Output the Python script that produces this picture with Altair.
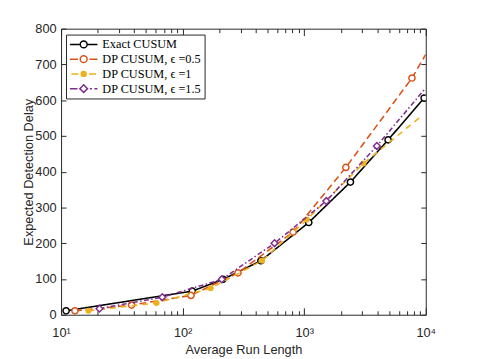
import altair as alt
import pandas as pd

# ---------------- data ----------------
series_names = ["Exact CUSUM", "DP CUSUM, ϵ =0.5", "DP CUSUM, ϵ =1", "DP CUSUM, ϵ =1.5"]

exact_arl = [11, 120, 215, 440, 1090, 2400, 4900, 9700]
exact_edd = [11, 66, 99, 151, 258, 371, 489, 606]

dp05_arl = [13, 38, 117, 285, 810, 2200, 7700, 10000]
dp05_edd = [11, 27, 54, 117, 231, 412, 662, 728]

dp1_arl = [16.8, 61, 170, 450, 1050, 3070, 8800]
dp1_edd = [11, 33, 74, 151, 266, 423, 550]

dp15_arl = [20.7, 68, 210, 570, 1520, 3960, 9700]
dp15_edd = [17, 49, 99, 200, 318, 472, 629]

# number of leading points of each series that carry a marker
marked_points = [8, 7, 6, 6]

x_tick_values = [10 * k for k in range(1, 10)] + [100 * k for k in range(1, 10)] + \
                [1000 * k for k in range(1, 10)] + [10000]
y_tick_values = [0, 100, 200, 300, 400, 500, 600, 700, 800]

# ---------------- styles ----------------
colors = ["#000000", "#D95319", "#EDB120", "#7E2F8E"]
dashes = [[1, 0], [7, 4], [6, 5], [5, 2.5, 1.5, 2.5]]
shapes = ["circle", "circle", "circle", "diamond"]
fills = ["white", "white", "#EDB120", "white"]
sizes = [40, 40, 22, 48]

circ = "M-0.25,0A0.25,0.25,0,1,1,0.25,0A0.25,0.25,0,1,1,-0.25,0Z"
legend_paths = [
    "M-1,0L-0.25,0M0.25,0L1,0" + circ,
    "M-1,0L-0.42,0M0.42,0L1,0" + circ,
    "M-0.9,0L-0.38,0M0.38,0L0.9,0"
    "M-0.18,0A0.18,0.18,0,1,1,0.18,0A0.18,0.18,0,1,1,-0.18,0Z"
    "M-0.1,0A0.1,0.1,0,1,1,0.1,0A0.1,0.1,0,1,1,-0.1,0Z"
    "M-0.04,0A0.04,0.04,0,1,1,0.04,0A0.04,0.04,0,1,1,-0.04,0Z",
    "M-1,0L-0.45,0M0.45,0L0.6,0M0.78,0L1,0M0,-0.28L0.28,0L0,0.28L-0.28,0Z",
]

rows = []
for name, arl, edd, nm in zip(series_names, [exact_arl, dp05_arl, dp1_arl, dp15_arl],
                              [exact_edd, dp05_edd, dp1_edd, dp15_edd], marked_points):
    for j, (a, e) in enumerate(zip(arl, edd)):
        rows.append({"series": name, "arl": a, "edd": e, "marker": j < nm})
df = pd.DataFrame(rows)

xscale = alt.Scale(type="log", domain=[10, 10000])
yscale = alt.Scale(domain=[0, 800])

major = "indexof([10,100,1000,10000], datum.value) >= 0"
label_expr = ("datum.value == 10 ? '10¹' : datum.value == 100 ? '10²' : "
              "datum.value == 1000 ? '10³' : datum.value == 10000 ? '10⁴' : ''")
tick_dash = {"condition": {"test": major, "value": []}, "value": [0, 3, 4, 20]}

x_bottom = alt.Axis(orient="bottom", values=x_tick_values, labelExpr=label_expr,
                    title="Average Run Length", domain=False, grid=False, offset=-7,
                    tickSize=7, tickDash=tick_dash, labelOverlap=False, labelFlush=False,
                    labelPadding=12, titlePadding=4)
y_left = alt.Axis(orient="left", values=y_tick_values, title="Expected Detection Delay",
                  domain=False, grid=False, offset=-5, tickSize=5, labelPadding=5,
                  titlePadding=-1, labelFlush=False)
x_top = alt.Axis(orient="top", values=x_tick_values, labels=False, title=None,
                 domain=False, grid=False, offset=-7, tickSize=7, tickDash=tick_dash)
y_right = alt.Axis(orient="right", values=y_tick_values, labels=False, title=None,
                   domain=False, grid=False, offset=-5, tickSize=5)

layers = []
for i, name in enumerate(series_names):
    ax_x = x_bottom if i == 0 else None
    ax_y = y_left if i == 0 else None
    line = alt.Chart(df).transform_filter(alt.datum.series == name).mark_line(
        color=colors[i], strokeDash=dashes[i], strokeWidth=1.6, clip=True
    ).encode(
        x=alt.X("arl:Q", scale=xscale, axis=ax_x),
        y=alt.Y("edd:Q", scale=yscale, axis=ax_y),
        order="arl:Q",
    )
    ax_x2 = x_top if i == 0 else None
    ax_y2 = y_right if i == 0 else None
    pts = alt.Chart(df).transform_filter(
        (alt.datum.series == name) & (alt.datum.marker == True)
    ).mark_point(
        shape=shapes[i], size=sizes[i], filled=True, fill=fills[i], stroke=colors[i],
        strokeWidth=1.5, opacity=1, clip=True
    ).encode(
        x=alt.X("arl:Q", scale=xscale, axis=ax_x2),
        y=alt.Y("edd:Q", scale=yscale, axis=ax_y2),
    )
    layers += [line, pts]

leg = alt.Legend(title=None, orient="none", legendX=5, legendY=6, padding=3,
                 strokeColor="#262626", fillColor="white", labelFont="Liberation Serif",
                 labelFontSize=12.5, labelColor="black", symbolStrokeWidth=1.5,
                 symbolSize=784, labelOffset=4, rowPadding=1, clipHeight=14,
                 symbolOpacity=1, labelLimit=300)
legend_layer = alt.Chart(df).transform_filter("datum.arl < 0").mark_point(
    filled=False, strokeWidth=1.5, size=784, opacity=1
).encode(
    color=alt.Color("series:N", scale=alt.Scale(domain=series_names, range=colors), legend=leg),
    shape=alt.Shape("series:N", scale=alt.Scale(domain=series_names, range=legend_paths), legend=leg),
)
layers.append(legend_layer)

chart = alt.layer(*layers).resolve_axis(x="independent", y="independent").properties(
    width=371, height=291, autosize="none",
    padding={"left": 54, "top": 18, "right": 45, "bottom": 42},
).configure_view(stroke="#262626", strokeWidth=1).configure_axis(
    labelFont="Liberation Sans", titleFont="Liberation Sans", labelFontSize=13,
    titleFontSize=13, titleFontWeight="normal", labelColor="#262626",
    titleColor="#262626", tickColor="#262626", tickWidth=1
)

chart.save("out.html", embed_options={"renderer": "svg", "actions": False})
